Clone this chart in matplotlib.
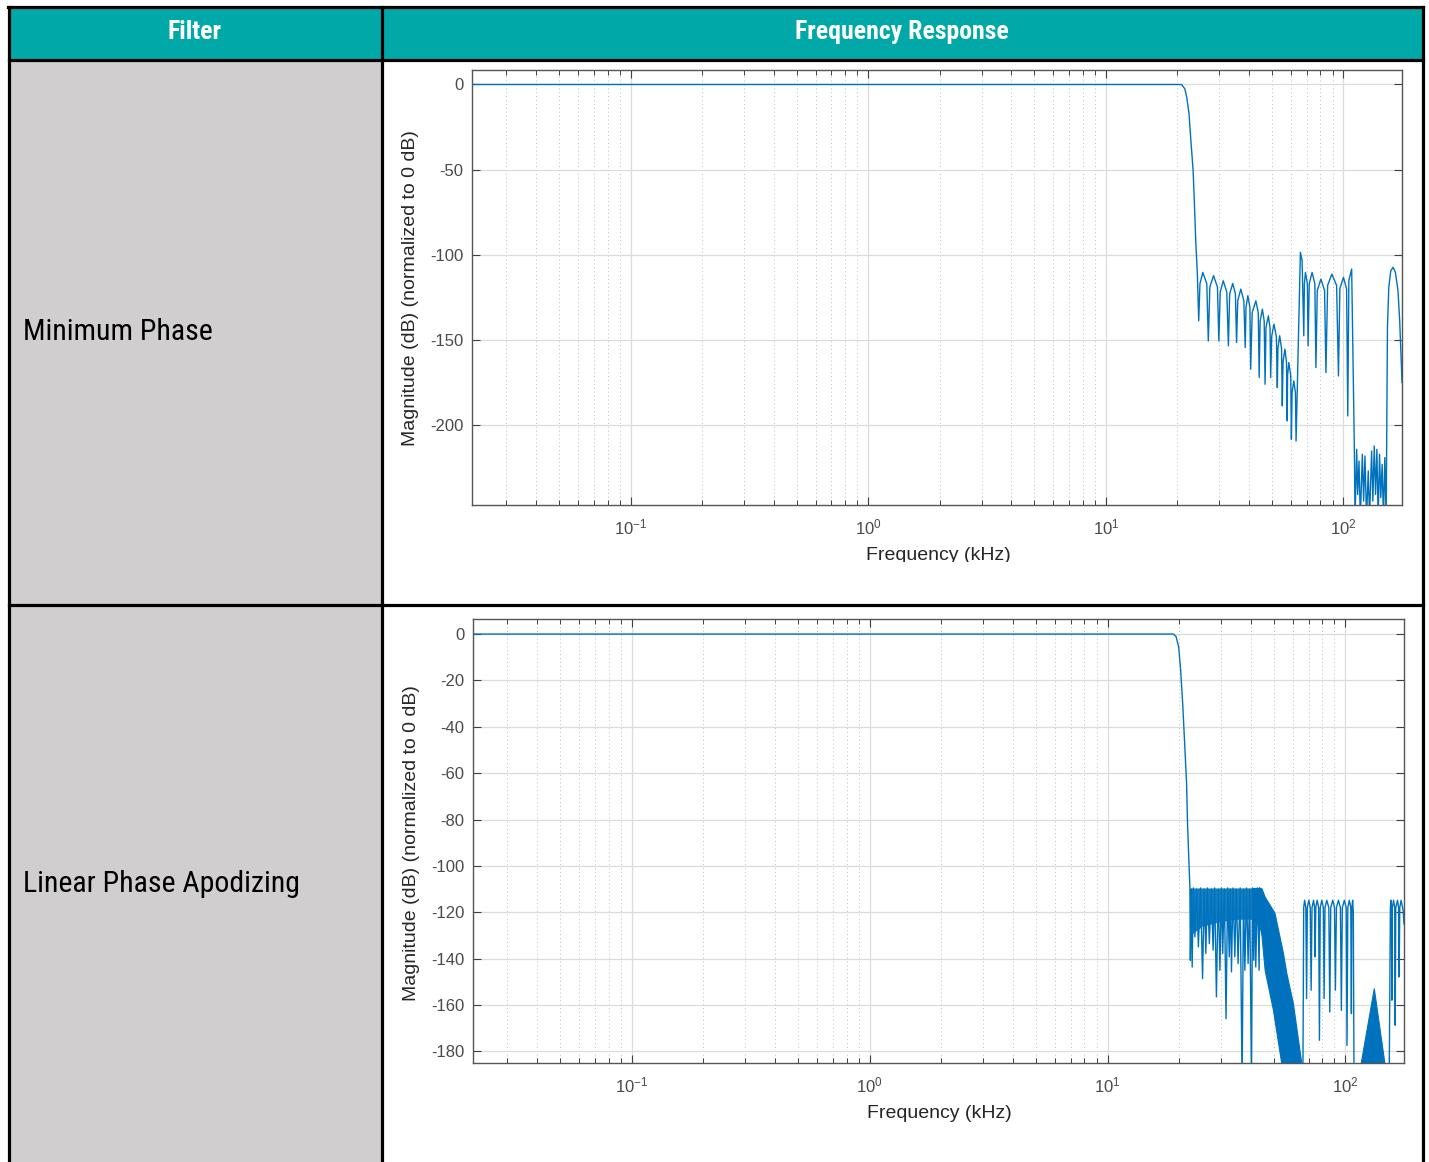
import matplotlib
matplotlib.use("Agg")
import matplotlib.pyplot as plt
from matplotlib.patches import Rectangle
from matplotlib.ticker import NullFormatter
from matplotlib.transforms import Bbox, TransformedBbox, IdentityTransform

plt.rcParams['font.family'] = ['Liberation Sans', 'DejaVu Sans']
plt.rcParams['axes.unicode_minus'] = False

# ---- table text ----
headers = ["Filter", "Frequency Response"]
filters = ["Minimum Phase", "Linear Phase Apodizing"]
ylabel = "Magnitude (dB) (normalized to 0 dB)"
xlabel = "Frequency (kHz)"

# ---- Minimum phase response (kHz, dB) ----
mp_freq = [0.0215, 20.8, 21.5, 21.9, 22.4, 22.8, 23.3, 23.6, 23.9, 24.2, 24.3,
           24.6, 24.9, 25.6, 26.6, 27.0, 27.4, 28.4, 29.5, 29.9, 30.3, 31.2,
           32.3, 32.8, 33.2, 34.2, 35.1, 35.5, 35.9, 37.0, 38.1, 38.6, 38.9,
           39.6, 40.4, 40.7, 41.3, 42.8, 43.8, 44.2, 44.6, 45.6, 46.4, 46.8,
           47.2, 48.3, 49.1, 49.4, 49.9, 51.0, 52.2, 52.7, 53.0, 53.9, 54.9,
           55.3, 55.7, 56.7, 57.6, 58.0, 58.2, 58.9, 60.0, 60.4, 60.8, 61.8,
           62.8, 63.2, 65.9, 67.0, 68.1, 68.5, 69.2, 70.5, 71.0, 71.8, 73.8,
           75.8, 76.6, 77.6, 80.4, 83.3, 84.4, 85.8, 89.4, 93.6, 95.3, 96.6,
           100.0, 103.1, 104.3, 105.4, 108.3, 111.2, 111.9, 113.7, 114.8,
           116.3, 117.8, 120.1, 121.6, 123.2, 125.1, 127.2, 128.8, 131.4,
           133.0, 134.8, 136.5, 138.3, 140.0, 141.9, 143.6, 145.5, 147.4,
           149.3, 151.3, 153.2, 155.2, 158.2, 161.8, 165.5, 169.7, 172.5,
           175.3, 176.4]
mp_db = [0, 0, -2.5, -7.4, -17.3, -32.9, -50.6, -70.2, -91.8, -107.4, -113.3,
         -138.8, -117, -110.4, -117, -150.6, -119, -112.3, -119, -150.6, -122,
         -115.3, -122, -153.5, -123, -116.9, -123, -151.6, -127, -120.2, -127,
         -154.5, -131, -124.1, -131, -167.2, -134, -127.1, -134, -172.1, -139,
         -132.0, -139, -176.1, -143, -135.9, -143, -172.1, -148, -140.8, -148,
         -178.0, -155, -147.6, -155, -188.8, -163, -155.5, -163, -197.6, -171,
         -163.3, -171, -208.4, -181, -174.1, -181, -209.4, -98.6, -103.5,
         -147.6, -117, -110.4, -117, -153.5, -117, -110.4, -117, -166.3, -121,
         -114.3, -121, -169.2, -118, -111.4, -118, -171.2, -120, -113.3, -120,
         -194.7, -115, -108.4, -215.3, -255, -214.3, -240.8, -221.2, -255,
         -217.2, -244.7, -218.2, -255, -227.0, -255, -215.3, -244.7, -212.3,
         -240.8, -214.3, -255, -217.2, -242.7, -223.1, -255, -219.2, -255,
         -142.7, -119.2, -109.4, -107.4, -110.4, -121.2, -138.8, -164.3, -175]

# ---- Linear phase apodizing response ----
lpa_freq = [0.0215, 18.9, 19.4, 19.9, 20.3, 20.7, 21.1, 21.5, 21.7, 22.0, 22.2,
            22.3, 22.5, 22.7, 22.95, 23.3, 23.7, 24.1, 24.6, 25.1, 25.5, 25.9,
            26.3, 26.8, 27.3, 27.8, 28.2, 28.7, 29.2, 29.7, 30.1, 30.5, 31.0,
            31.5, 32.0, 32.5, 32.85, 33.2, 33.7, 34.3, 34.8, 35.4, 36.1, 36.8,
            37.3, 37.8, 38.4, 39.0, 39.6, 40.3, 40.7, 41.2, 41.6, 42.0, 42.7,
            43.4, 43.6]
lpa_db = [0, 0, -1.0, -5.3, -15.4, -29.8, -47.1, -64.4, -81.6, -98.9, -109.0,
          -140.7, -110, -143.6, -109.5, -130.6, -110, -134.9, -109.5, -148.6,
          -110, -137.8, -109.5, -133.5, -110, -136.3, -109.5, -156.5, -110,
          -145.0, -109.5, -137.8, -110, -165.9, -109.5, -139.2, -110, -145.7,
          -109.5, -139.2, -110, -142.1, -109.5, -195, -110, -145.0, -109.5,
          -142.1, -110, -195, -109.5, -140.7, -110, -143.6, -109.5, -145.0,
          -109.5]

# dense ripple core between 22 and 44 kHz
core_freq = [22.2, 25.0, 30.0, 35.0, 40.0, 43.6]
core_hi = [-109.5, -109.5, -109.5, -109.5, -109.5, -109.5]
core_lo = [-130, -126, -124, -123, -123, -124]

# solid band rolling off between 41 and 66 kHz
band_freq = [40.9, 43.6, 44.4, 45.8, 49.6, 50.4, 54.7, 56.5, 60.2, 66.3]
band_hi = [-109.5, -109.5, -109.7, -113.3, -119.1, -120.4, -137.7, -146.3,
           -159.3, -190]
band_lo = [-123.4, -126, -130, -145, -162, -166.6, -190, -190, -190, -190]

# lobes between 66 and 109 kHz
lobe_freq = [66.3, 66.8, 67.4, 68.2, 68.7, 69.2, 70.2, 71.2, 71.8, 72.4, 73.5,
             74.2, 74.6, 75.1, 76.1, 77.2, 77.8, 78.4, 79.6, 80.8, 81.4, 82.1,
             83.5, 85.2, 86.0, 86.8, 88.5, 90.0, 90.8, 91.7, 93.5, 95.3, 96.2,
             97.1, 99.0, 100.8, 101.6, 102.4, 103.9, 105.4, 106.0, 106.5,
             107.3, 108.0, 108.7]
lobe_db = [-190, -118, -114.8, -118, -157.2, -118, -114.8, -118, -153.6, -118,
           -114.8, -118, -139.2, -118, -114.8, -118, -175.2, -118, -114.8,
           -118, -157.2, -118, -114.8, -118, -163.0, -118, -114.8, -118,
           -153.6, -118, -114.8, -118, -162.3, -118, -114.8, -118, -177.4,
           -118, -114.8, -118, -163.7, -118, -114.8, -120, -190]

# triangle near 130 kHz
tri_freq = [114.4, 132.3, 148.9]
tri_db = [-190, -152.9, -190]

# lobes at the right edge
edge_freq = [152.9, 154.6, 155.3, 156.2, 156.8, 157.6, 159.4, 161.2, 162.0,
             162.9, 165.6, 167.4, 168.3, 169.3, 171.5, 174.9, 176.4]
edge_db = [-190, -118, -114.8, -118, -157.9, -118, -114.8, -118, -168.7,
           -118, -114.8, -118, -147.9, -118, -114.8, -119.1, -125]

W, H = 1429, 1162
BLUE = '#0072BD'
fig = plt.figure(figsize=(W / 100, H / 100), dpi=100)

bg = fig.add_axes([0, 0, 1, 1])
bg.set_xlim(0, W)
bg.set_ylim(H, 0)
bg.axis('off')

# table cells
bg.add_patch(Rectangle((9, 7), 1414, 53, color='#00A9A8', lw=0))
bg.add_patch(Rectangle((9, 60), 373, H - 60, color='#D0CECE', lw=0))
lk = dict(color='black', lw=2.3, solid_capstyle='projecting')
bg.plot([8, 1423], [7, 7], **lk)
bg.plot([9, 9], [7, H], **lk)
bg.plot([1423, 1423], [7, H], **lk)
bg.plot([382, 382], [7, H], **lk)
bg.plot([9, 1423], [60, 60], **lk)
bg.plot([9, 1423], [605, 605], **lk)

hfont = ['Roboto Condensed', 'Liberation Sans', 'DejaVu Sans']
bg.text(195, 32, headers[0], ha='center', va='center', color='white',
        fontsize=18.5, fontweight='bold', family=hfont)
bg.text(902, 32, headers[1], ha='center', va='center', color='white',
        fontsize=18.5, fontweight='bold', family=hfont)
bg.text(23, 332, filters[0], ha='left', va='center', color='black',
        fontsize=21.5, family=hfont)
bg.text(23, 884, filters[1], ha='left', va='center', color='black',
        fontsize=21.5, family=hfont)


def px_axes(l, t, r, b):
    return fig.add_axes([l / W, 1 - b / H, (r - l) / W, (b - t) / H])


def matlab_style(ax, yticks, ylim):
    ax.set_xscale('log')
    ax.set_xlim(0.0215, 176.4)
    ax.set_ylim(ylim)
    ax.set_yticks(yticks)
    ax.xaxis.set_minor_formatter(NullFormatter())
    ax.set_axisbelow(True)
    ax.grid(True, which='major', color='#DCDCDC', lw=0.9)
    ax.grid(True, which='minor', axis='x', color='#BDBDBD', lw=0.7,
            ls=(0, (1, 3)))
    ax.tick_params(which='both', direction='in', top=True, right=True,
                   color='#404040', labelcolor='#4A4A4A', labelsize=12)
    ax.tick_params(which='major', length=6, width=0.8)
    ax.tick_params(which='minor', length=3.5, width=0.7)
    ax.tick_params(axis='x', pad=9)
    ax.tick_params(axis='y', pad=6)
    for s in ax.spines.values():
        s.set_color('#555555')
        s.set_linewidth(1.0)


ax1 = px_axes(472, 70, 1402, 505)
matlab_style(ax1, [0, -50, -100, -150, -200], (-247, 8.5))
ax1.plot(mp_freq, mp_db, color=BLUE, lw=1.0)

ax2 = px_axes(473, 619, 1404, 1063)
matlab_style(ax2, list(range(0, -181, -20)), (-185, 6.5))
ax2.fill_between(core_freq, core_hi, core_lo, color=BLUE, alpha=0.9, lw=0)
ax2.plot(lpa_freq, lpa_db, color=BLUE, lw=1.0)
ax2.fill_between(band_freq, band_hi, band_lo, color=BLUE, lw=0.8)
ax2.plot(lobe_freq, lobe_db, color=BLUE, lw=1.0)
ax2.fill(tri_freq, tri_db, color=BLUE, lw=0.8)
ax2.plot(edge_freq, edge_db, color=BLUE, lw=1.0)

# axis labels
bg.text(411, 288, ylabel, rotation=90, ha='center', va='center',
        fontsize=14, color='#262626')
bg.text(412, 843, ylabel, rotation=90, ha='center', va='center',
        fontsize=14, color='#262626')
t1 = bg.text(938, 555, xlabel, ha='center', va='center', fontsize=14,
             color='#262626')
t1.set_clip_box(TransformedBbox(Bbox.from_extents(0, H - 562, W, H),
                                IdentityTransform()))
t1.set_clip_on(True)
bg.text(939, 1114, xlabel, ha='center', va='center', fontsize=14,
        color='#262626')

fig.savefig('out.png', dpi=100)
